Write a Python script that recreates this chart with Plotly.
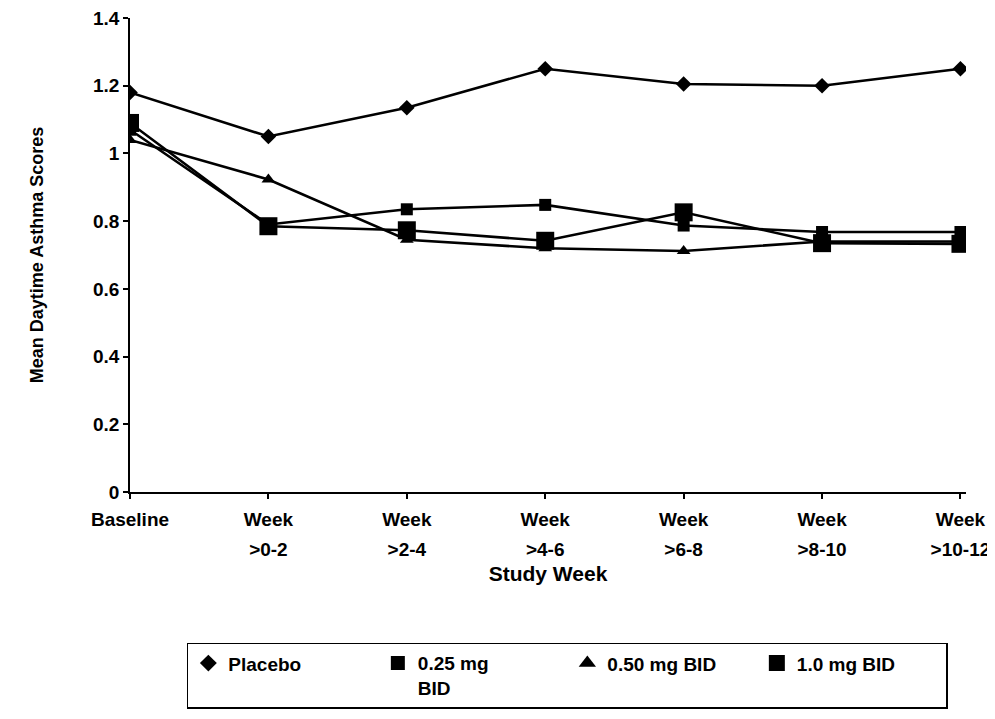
import plotly.graph_objects as go

# ---- data ----
tick_line1 = ["Baseline", "Week", "Week", "Week", "Week", "Week", "Week"]
tick_line2 = ["", ">0-2", ">2-4", ">4-6", ">6-8", ">8-10", ">10-12"]
x_pos = [0, 1, 2, 3, 4, 5, 6]

placebo = [1.18, 1.05, 1.135, 1.25, 1.205, 1.20, 1.25]
mg025 = [1.07, 0.79, 0.835, 0.848, 0.787, 0.768, 0.768]
mg050 = [1.04, 0.923, 0.745, 0.72, 0.712, 0.74, 0.74]
mg100 = [1.09, 0.785, 0.773, 0.742, 0.826, 0.735, 0.733]

series_names = ["Placebo", "0.25 mg<br>BID", "0.50 mg BID", "1.0 mg BID"]

FONT = "Liberation Sans, Arial, sans-serif"

fig = go.Figure()
styles = [
    (placebo, "diamond", 12, 13),
    (mg025, "square", 12, 14),
    (mg050, "triangle-up", 12, 15),
    (mg100, "square", 18, 16),
]
for (vals, sym, size, lsize), name in zip(styles, series_names):
    fig.add_trace(go.Scatter(
        x=x_pos, y=vals, name=name, mode="lines+markers",
        line=dict(color="black", width=2.6),
        marker=dict(symbol=sym, size=size, color="black"),
        showlegend=False,
    ))
    # legend entry (marker only, as in the original key)
    fig.add_trace(go.Scatter(
        x=[None], y=[None], name=name, mode="markers",
        marker=dict(symbol=sym, size=lsize, color="black"),
        showlegend=True, hoverinfo="skip",
    ))

# carrier trace for the second line of the category labels
fig.add_trace(go.Scatter(
    x=x_pos, y=[None] * len(x_pos), xaxis="x2", mode="markers",
    showlegend=False, hoverinfo="skip",
))

fig.update_layout(
    width=995, height=719,
    margin=dict(l=122, r=37, t=10, b=235),
    paper_bgcolor="white", plot_bgcolor="white",
    font=dict(family=FONT, color="black", size=19),
    showlegend=True,
    legend=dict(
        orientation="h", x=0.068, xanchor="left", y=-0.318, yanchor="top",
        bordercolor="black", borderwidth=1.5, bgcolor="white",
        font=dict(family=FONT, size=19, color="black", weight="bold"),
        valign="top", entrywidth=144.5, entrywidthmode="pixels",
        itemsizing="trace",
    ),
    xaxis=dict(
        range=[0, 6.04], tickvals=x_pos, ticktext=tick_line1,
        showline=True, linecolor="black", linewidth=1.5,
        ticks="outside", ticklen=5, tickwidth=1.5, tickcolor="black",
        showgrid=False, zeroline=False, automargin=False,
        ticklabelstandoff=4, ticklabeloverflow="allow",
        tickfont=dict(family=FONT, size=19, weight="bold"),
    ),
    xaxis2=dict(
        overlaying="x", anchor="y", side="bottom",
        range=[0, 6.04], tickvals=x_pos, ticktext=tick_line2,
        showline=False, ticks="", showgrid=False, zeroline=False,
        automargin=False, ticklabelstandoff=44, ticklabeloverflow="allow",
        tickfont=dict(family=FONT, size=19, weight="bold"),
        title=dict(text="Study Week", standoff=7,
                   font=dict(family=FONT, size=21, weight="bold")),
    ),
    yaxis=dict(
        range=[0, 1.4], tickvals=[0, 0.2, 0.4, 0.6, 0.8, 1, 1.2, 1.4],
        ticktext=["0", "0.2", "0.4", "0.6", "0.8", "1", "1.2", "1.4"],
        showline=True, linecolor="black", linewidth=1.5,
        ticks="outside", ticklen=5, tickwidth=1.5, tickcolor="black",
        showgrid=False, zeroline=False, automargin=False,
        ticklabeloverflow="allow",
        tickfont=dict(family=FONT, size=19, weight="bold"),
        title=dict(text="Mean Daytime Asthma Scores", standoff=45,
                   font=dict(family=FONT, size=18, weight="bold")),
    ),
)

fig.write_html("out.html")
